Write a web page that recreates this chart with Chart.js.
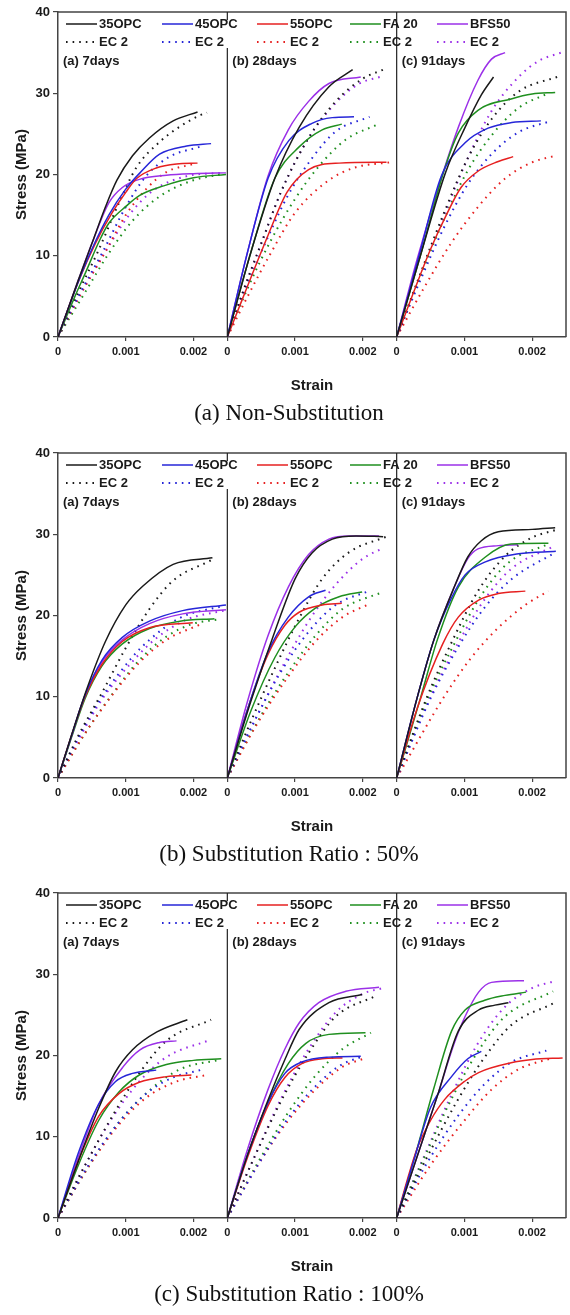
<!DOCTYPE html>
<html>
<head>
<meta charset="utf-8">
<script src="https://cdn.jsdelivr.net/npm/chart.js@4.4.1/dist/chart.umd.min.js"></script>
<style>
  body { margin: 0; background: #fff; }
  #page { position: relative; width: 570px; height: 1315px; overflow: hidden; }
  .fig { position: absolute; left: 0; width: 570px; height: 440px; }
  .fig canvas { position: absolute; left: 0; top: 0; }
  .caption {
    position: absolute; left: 4px; width: 570px; top: 398px; height: 30px;
    line-height: 30px; text-align: center; color: #111;
    font-family: 'Liberation Serif', 'Times New Roman', serif; font-size: 23px;
  }
</style>
</head>
<body>
<div id="page">
  <div class="fig" style="top:0px"><canvas id="fig1" width="570" height="400"></canvas><div class="caption">(a) Non-Substitution</div></div>
  <div class="fig" style="top:441px"><canvas id="fig2" width="570" height="400"></canvas><div class="caption">(b) Substitution Ratio : 50%</div></div>
  <div class="fig" style="top:881px"><canvas id="fig3" width="570" height="400"></canvas><div class="caption">(c) Substitution Ratio : 100%</div></div>
</div>
<script>
const FONT = "'Liberation Sans', Arial, sans-serif";
const INK = '#1a1a1a';
const FRAME = '#444';

const seriesNames = ['35OPC', '45OPC', '55OPC', 'FA 20', 'BFS50'];
const ecLabel = 'EC 2';
const seriesColors = ['#1a1a1a', '#2626d8', '#e62020', '#1f8f1f', '#9b30e8'];
const panelLabels = ['(a) 7days', '(b) 28days', '(c) 91days'];
const stressTicks = [0, 10, 20, 30, 40];
const strainTicks = [0, 1, 2];            // strain in 10^-3
const strainTickLabels = ['0', '0.001', '0.002'];
const strainMax = 2.5;

// each curve: [strain (x10^-3), stress (MPa)], order 35OPC, 45OPC, 55OPC, FA 20, BFS50

// (a) Non-Substitution
const nonSub7Test = [
  [[0,0],[0.3,7],[0.5,11.5],[0.7,16],[0.87,19.3],[1.1,22.3],[1.35,24.5],[1.7,26.6],[2.06,27.7]],
  [[0,0],[0.3,6.8],[0.5,10.8],[0.75,15],[1.0,18.2],[1.21,20.2],[1.5,22.5],[1.9,23.5],[2.26,23.8]],
  [[0,0],[0.3,6.8],[0.55,11.5],[0.8,15.3],[1.0,17.8],[1.16,19.5],[1.45,20.8],[1.75,21.3],[2.06,21.4]],
  [[0,0],[0.25,5],[0.4,7.8],[0.62,12],[0.75,14],[1.02,16.2],[1.2,17.4],[1.56,18.6],[2.0,19.6],[2.48,20.0]],
  [[0,0],[0.3,7],[0.5,11.5],[0.75,16.5],[0.95,18.4],[1.2,19.4],[1.6,19.9],[2.0,20.1],[2.48,20.2]]
];
const nonSub7EC2 = [
  [[0,0],[0.3,5.5],[0.6,10.7],[0.9,16.5],[1.16,20.9],[1.5,24],[1.8,25.9],[2.1,27.3],[2.2,27.6]],
  [[0,0],[0.3,5],[0.65,10.3],[1.0,16],[1.3,19.8],[1.65,22.2],[2.09,23.4]],
  [[0,0],[0.35,5.5],[0.7,10.5],[1.0,15],[1.3,18.2],[1.6,20.3],[2.0,21.3]],
  [[0,0],[0.4,5.5],[0.75,10.3],[1.1,14.3],[1.5,17.3],[2.0,19.3],[2.4,20.0]],
  [[0,0],[0.35,5.5],[0.7,10.5],[1.05,15],[1.4,18],[1.9,19.8],[2.4,20.2]]
];
const nonSub28Test = [
  [[0,0],[0.35,10.5],[0.7,19.5],[1.06,25.8],[1.5,30.8],[1.85,32.9]],
  [[0,0],[0.3,10.5],[0.6,19.5],[0.91,24.2],[1.25,26.3],[1.55,27],[1.87,27.1]],
  [[0,0],[0.2,4.2],[0.4,8.4],[0.6,12.5],[0.88,17.8],[1.2,20.6],[1.65,21.4],[2.35,21.5]],
  [[0,0],[0.35,10.5],[0.7,19.5],[1.06,23.4],[1.4,25.5],[1.69,26.2]],
  [[0,0],[0.3,10.5],[0.6,19.8],[0.9,25.5],[1.2,29],[1.5,31.2],[1.97,32.0]]
];
const nonSub28EC2 = [
  [[0,0],[0.25,6],[0.5,11.5],[0.8,18],[1.2,24.5],[1.6,29],[2.0,31.8],[2.3,32.9]],
  [[0,0],[0.3,6.5],[0.6,12.3],[0.9,17.5],[1.25,22],[1.6,25.3],[2.1,27.1]],
  [[0,0],[0.3,5],[0.64,10.3],[1.0,15.3],[1.5,19.3],[1.9,20.9],[2.4,21.5]],
  [[0,0],[0.3,6],[0.65,12],[1.0,17],[1.35,21],[1.75,24.3],[2.2,26.1]],
  [[0,0],[0.25,6],[0.5,11.5],[0.8,18],[1.2,24.5],[1.6,28.8],[1.95,31.2],[2.25,32.0]]
];
const nonSub91Test = [
  [[0,0],[0.35,10],[0.72,20.2],[1.01,25.8],[1.25,29.8],[1.43,32.0]],
  [[0,0],[0.33,10],[0.66,19.8],[1.01,23.9],[1.35,25.7],[1.7,26.4],[2.13,26.6]],
  [[0,0],[0.25,5.5],[0.5,10.8],[0.75,15.3],[0.95,18.4],[1.2,20.4],[1.5,21.6],[1.72,22.2]],
  [[0,0],[0.35,10],[0.7,20.5],[0.91,25.1],[1.2,27.9],[1.69,29.3],[2.0,29.9],[2.34,30.1]],
  [[0,0],[0.3,9.5],[0.62,18.5],[0.91,25.8],[1.2,31.6],[1.4,34.2],[1.6,35.0]]
];
const nonSub91EC2 = [
  [[0,0],[0.35,7.8],[0.7,15.3],[1.05,22],[1.4,26.8],[1.8,30.2],[2.4,32.1]],
  [[0,0],[0.35,7],[0.7,13.5],[1.05,18.8],[1.4,22.5],[1.8,25.2],[2.28,26.6]],
  [[0,0],[0.4,6],[0.8,11.5],[1.2,16],[1.6,19.5],[2.0,21.5],[2.34,22.3]],
  [[0,0],[0.35,7.5],[0.7,14.5],[1.05,20.5],[1.4,24.8],[1.8,28.2],[2.24,30.0]],
  [[0,0],[0.35,7.5],[0.7,15],[1.05,22],[1.4,27.8],[1.8,32],[2.1,34],[2.43,35.0]]
];

// (b) Substitution Ratio : 50%
const sub50_7Test = [
  [[0,0],[0.2,5.3],[0.44,11.3],[0.7,16.8],[1.0,21.3],[1.25,23.6],[1.7,26.3],[2.28,27.1]],
  [[0,0],[0.2,5.2],[0.4,10.2],[0.65,14.5],[0.95,17.3],[1.35,19.3],[1.84,20.6],[2.48,21.3]],
  [[0,0],[0.2,5.2],[0.4,10],[0.65,14],[0.95,16.8],[1.35,18.5],[1.99,19.1]],
  [[0,0],[0.2,5],[0.4,9.8],[0.65,13.8],[0.95,16.5],[1.35,18.4],[1.8,19.3],[2.31,19.6]],
  [[0,0],[0.2,5.2],[0.4,10.2],[0.65,14.3],[0.95,17],[1.35,19],[1.84,20.2],[2.48,20.7]]
];
const sub50_7EC2 = [
  [[0,0],[0.3,5.2],[0.65,10.5],[1.0,16],[1.35,20.8],[1.7,24.3],[2.26,26.8]],
  [[0,0],[0.3,5],[0.62,9.6],[1.1,14.9],[1.35,17],[1.8,19.7],[2.45,21.2]],
  [[0,0],[0.4,5.5],[0.8,10.2],[1.2,14.2],[1.6,17],[2.1,18.9]],
  [[0,0],[0.4,5.5],[0.8,10.3],[1.2,14.5],[1.6,17.4],[2.0,19],[2.35,19.5]],
  [[0,0],[0.32,5],[0.66,9.8],[1.15,14.8],[1.45,17.2],[1.9,19.5],[2.45,20.6]]
];
const sub50_28Test = [
  [[0,0],[0.35,9.5],[0.7,18],[1.0,24.5],[1.25,27.7],[1.55,29.4],[1.9,29.8],[2.3,29.7]],
  [[0,0],[0.3,8.5],[0.6,15.5],[0.9,19.8],[1.2,22.3],[1.45,23.1]],
  [[0,0],[0.3,8.5],[0.6,15.2],[0.85,18.8],[1.06,20.4],[1.4,21.3],[1.69,21.5]],
  [[0,0],[0.35,8.3],[0.7,14.8],[1.0,18.6],[1.3,20.9],[1.65,22.3],[1.99,22.9]],
  [[0,0],[0.3,9.5],[0.6,17.5],[0.9,23.5],[1.2,27.5],[1.5,29.4],[1.8,29.8],[2.24,29.8]]
];
const sub50_28EC2 = [
  [[0,0],[0.35,7],[0.7,13.5],[1.05,19.5],[1.4,24.5],[1.8,27.8],[2.35,29.7]],
  [[0,0],[0.4,7],[0.8,13.2],[1.2,18],[1.6,21.3],[2.12,23.1]],
  [[0,0],[0.45,6.8],[0.9,12.5],[1.3,16.8],[1.7,19.8],[2.12,21.5]],
  [[0,0],[0.45,7],[0.9,13],[1.3,17.5],[1.7,20.8],[2.3,22.9]],
  [[0,0],[0.4,7],[0.8,13.5],[1.2,19.3],[1.6,23.8],[2.0,27],[2.3,28.3]]
];
const sub50_91Test = [
  [[0,0],[0.3,9.8],[0.55,17],[0.85,23.5],[1.05,27.2],[1.25,29.2],[1.5,30.3],[2.0,30.6],[2.34,30.8]],
  [[0,0],[0.3,9.8],[0.55,17],[0.8,22],[1.01,25],[1.31,26.6],[1.8,27.6],[2.35,27.9]],
  [[0,0],[0.3,8.5],[0.68,16.5],[0.91,19.8],[1.21,21.9],[1.5,22.7],[1.9,23.0]],
  [[0,0],[0.35,9.8],[0.6,17],[0.91,23.5],[1.31,27.2],[1.69,28.8],[2.24,28.9]],
  [[0,0],[0.3,9.8],[0.55,17],[0.85,23.5],[1.05,27],[1.2,28.2],[1.5,28.6],[1.79,28.7]]
];
const sub50_91EC2 = [
  [[0,0],[0.45,10],[0.8,16.5],[1.2,23],[1.6,27.3],[2.0,29.6],[2.34,30.5]],
  [[0,0],[0.5,9.8],[0.9,16],[1.3,21],[1.7,24.5],[2.35,27.8]],
  [[0,0],[0.7,10],[1.1,14.8],[1.5,18.5],[1.9,21.3],[2.24,23.0]],
  [[0,0],[0.47,10],[0.85,16.5],[1.25,22.5],[1.65,26.5],[2.24,28.8]],
  [[0,0],[0.5,10],[0.9,16.5],[1.3,22],[1.7,25.8],[2.34,28.6]]
];

// (c) Substitution Ratio : 100%
const sub100_7Test = [
  [[0,0],[0.3,7],[0.6,13.5],[0.85,18],[1.1,20.7],[1.46,22.9],[1.91,24.4]],
  [[0,0],[0.3,8],[0.6,14],[0.85,16.8],[1.1,17.8],[1.45,18.2]],
  [[0,0],[0.3,7],[0.6,12.5],[0.9,15.3],[1.2,16.7],[1.6,17.4],[1.97,17.6]],
  [[0,0],[0.3,6.5],[0.6,12],[0.9,15.5],[1.2,17.6],[1.6,18.9],[2.0,19.4],[2.41,19.6]],
  [[0,0],[0.3,7.5],[0.6,14],[0.96,18.6],[1.21,20.7],[1.5,21.6],[1.75,21.8]]
];
const sub100_7EC2 = [
  [[0,0],[0.4,6.5],[0.8,12.5],[1.2,17.8],[1.6,21.8],[2.26,24.4]],
  [[0,0],[0.45,6.5],[0.9,11.8],[1.3,15.3],[1.7,17.3],[2.1,18.2]],
  [[0,0],[0.45,6.3],[0.9,11.5],[1.3,14.8],[1.75,16.8],[2.2,17.6]],
  [[0,0],[0.45,6.3],[0.9,11.8],[1.35,15.7],[1.8,18.3],[2.4,19.5]],
  [[0,0],[0.4,6.5],[0.8,12.3],[1.2,16.8],[1.6,19.8],[2.24,21.9]]
];
const sub100_28Test = [
  [[0,0],[0.3,7.8],[0.6,14.5],[0.85,19.5],[1.06,23.2],[1.5,26.5],[1.99,27.5]],
  [[0,0],[0.3,7.8],[0.6,14.2],[0.85,17.8],[1.1,19.2],[1.5,19.8],[1.97,19.9]],
  [[0,0],[0.3,7.5],[0.6,13.8],[0.85,17.3],[1.1,19],[1.4,19.6],[1.7,19.7]],
  [[0,0],[0.3,7.8],[0.6,14.2],[0.9,19],[1.16,21.5],[1.5,22.6],[2.04,22.8]],
  [[0,0],[0.3,8.5],[0.6,15.8],[0.85,20.8],[1.06,24],[1.35,26.5],[1.75,27.9],[2.24,28.4]]
];
const sub100_28EC2 = [
  [[0,0],[0.4,7.5],[0.8,14.5],[1.2,20.3],[1.6,24.8],[2.21,27.4]],
  [[0,0],[0.45,6.5],[0.9,12.3],[1.3,16.2],[1.65,18.7],[2.0,19.9]],
  [[0,0],[0.45,6.5],[0.9,12],[1.3,15.8],[1.7,18.6],[2.05,19.7]],
  [[0,0],[0.45,6.8],[0.9,13],[1.3,17.5],[1.7,20.8],[2.12,22.8]],
  [[0,0],[0.4,7.5],[0.8,14.8],[1.2,20.8],[1.6,25.3],[2.0,27.6],[2.3,28.3]]
];
const sub100_91Test = [
  [[0,0],[0.3,7.5],[0.6,15],[0.91,23],[1.21,25.6],[1.45,26.2],[1.65,26.5]],
  [[0,0],[0.25,7],[0.5,13.6],[0.81,17.4],[1.05,19.6],[1.25,20.5]],
  [[0,0],[0.15,4.5],[0.3,8.5],[0.5,12],[0.71,14.6],[1.0,16.8],[1.21,17.9],[1.69,19.1],[2.0,19.5],[2.45,19.7]],
  [[0,0],[0.3,8.5],[0.55,16],[0.81,23],[1.01,25.6],[1.3,26.8],[1.6,27.4],[1.91,27.8]],
  [[0,0],[0.3,7.5],[0.6,15],[0.85,21.5],[1.01,24.8],[1.21,27.8],[1.4,29],[1.88,29.2]]
];
const sub100_91EC2 = [
  [[0,0],[0.45,7.5],[0.9,14.5],[1.3,19.8],[1.7,23.8],[2.31,26.4]],
  [[0,0],[0.45,6.8],[0.9,12.5],[1.3,16.5],[1.7,19.2],[2.21,20.6]],
  [[0,0],[0.5,6.5],[1.0,12],[1.4,15.8],[1.8,18.3],[2.3,19.7]],
  [[0,0],[0.4,7.3],[0.8,14.5],[1.2,20.5],[1.6,24.8],[2.31,27.9]],
  [[0,0],[0.4,7.5],[0.8,15],[1.2,21.5],[1.6,26],[2.0,28.3],[2.31,29.1]]
];

const figures = [
  { id: 'fig1', panels: [[nonSub7Test, nonSub7EC2], [nonSub28Test, nonSub28EC2], [nonSub91Test, nonSub91EC2]] },
  { id: 'fig2', panels: [[sub50_7Test, sub50_7EC2], [sub50_28Test, sub50_28EC2], [sub50_91Test, sub50_91EC2]] },
  { id: 'fig3', panels: [[sub100_7Test, sub100_7EC2], [sub100_28Test, sub100_28EC2], [sub100_91Test, sub100_91EC2]] }
];

const axisIds = ['x1', 'x2', 'x3'];
const DOTS = [1.6, 5];

function lineSet(curve, i, p, dotted) {
  return {
    label: dotted ? ecLabel : seriesNames[i],
    data: curve.map(([x, y]) => ({ x, y })),
    xAxisID: axisIds[p],
    yAxisID: 'y',
    showLine: true,
    borderColor: seriesColors[i],
    borderWidth: dotted ? 2 : 1.5,
    borderDash: dotted ? DOTS : [],
    pointRadius: 0,
    cubicInterpolationMode: 'monotone'
  };
}

function makeDatasets(panels) {
  const sets = [];
  panels.forEach(([test, ec2], p) => {
    test.forEach((c, i) => sets.push(lineSet(c, i, p, false)));
    ec2.forEach((c, i) => sets.push(lineSet(c, i, p, true)));
  });
  return sets;
}

function strainAxis(p) {
  return {
    type: 'linear', position: 'bottom', stack: 'strain', stackWeight: 1,
    min: 0, max: strainMax,
    afterBuildTicks: s => { s.ticks = strainTicks.map(v => ({ value: v })); },
    afterFit: s => { s.height = 63; },
    ticks: {
      autoSkip: false, maxRotation: 0, padding: 4, color: INK,
      font: { family: FONT, size: 11, weight: 'bold' },
      callback: (v, i) => strainTickLabels[i]
    },
    grid: { drawOnChartArea: false, tickLength: 4, color: FRAME, lineWidth: 1.2 },
    border: { color: FRAME, width: 1.5 },
    title: {
      display: p === 1, text: 'Strain', color: INK,
      font: { family: FONT, size: 15, weight: 'bold' }, padding: { top: 0, bottom: 5 }
    }
  };
}

// frame, panel dividers, legend and panel labels
const panelDecor = {
  id: 'panelDecor',
  afterDraw(chart) {
    const { ctx, chartArea: a, scales } = chart;
    const lefts = axisIds.map(id => scales[id].left);
    ctx.save();
    ctx.strokeStyle = FRAME;
    ctx.lineWidth = 1.5;
    ctx.beginPath();
    ctx.moveTo(a.left, a.top);
    ctx.lineTo(a.right, a.top);
    ctx.lineTo(a.right, a.bottom);
    ctx.stroke();

    ctx.strokeStyle = '#222';
    ctx.lineWidth = 1.2;
    lefts.slice(1).forEach(x => {
      ctx.beginPath();
      ctx.moveTo(x, a.top);
      ctx.lineTo(x, a.bottom);
      ctx.stroke();
    });

    // legend box of the first panel hides the first divider
    ctx.fillStyle = '#fff';
    ctx.fillRect(a.left + 2, a.top + 8, lefts[1] - a.left + 1, 28);

    const cols = [8, 104, 199, 292, 379];
    ctx.font = `bold 13px ${FONT}`;
    ctx.textBaseline = 'middle';
    ctx.textAlign = 'left';
    seriesNames.forEach((name, i) => {
      const x = a.left + cols[i];
      [[a.top + 12, name, []], [a.top + 30, ecLabel, DOTS]].forEach(([y, text, dash]) => {
        ctx.strokeStyle = seriesColors[i];
        ctx.lineWidth = dash.length ? 2 : 1.5;
        ctx.setLineDash(dash);
        ctx.beginPath();
        ctx.moveTo(x, y);
        ctx.lineTo(x + 31, y);
        ctx.stroke();
        ctx.setLineDash([]);
        ctx.fillStyle = INK;
        ctx.fillText(text, x + 33, y + 0.5);
      });
    });

    panelLabels.forEach((t, p) => ctx.fillText(t, lefts[p] + 5, a.top + 49));
    ctx.restore();
  }
};

figures.forEach(fig => {
  const scales = {
    y: {
      type: 'linear', position: 'left', min: 0, max: 40,
      afterBuildTicks: s => { s.ticks = stressTicks.map(v => ({ value: v })); },
      afterFit: s => { s.width = 58; },
      ticks: { padding: 3, color: INK, font: { family: FONT, size: 13, weight: 'bold' } },
      grid: { drawOnChartArea: false, tickLength: 5, color: FRAME, lineWidth: 1.2 },
      border: { color: FRAME, width: 1.5 },
      title: {
        display: true, text: 'Stress (MPa)', color: INK,
        font: { family: FONT, size: 15, weight: 'bold' }, padding: { top: 13, bottom: 0 }
      }
    }
  };
  axisIds.forEach((id, p) => { scales[id] = strainAxis(p); });

  new Chart(document.getElementById(fig.id), {
    type: 'scatter',
    data: { datasets: makeDatasets(fig.panels) },
    options: {
      responsive: false,
      animation: false,
      devicePixelRatio: 1,
      layout: { padding: { top: 12, right: 4, left: 0, bottom: 0 } },
      plugins: { legend: { display: false }, tooltip: { enabled: false } },
      scales
    },
    plugins: [panelDecor]
  });
});
</script>
</body>
</html>
